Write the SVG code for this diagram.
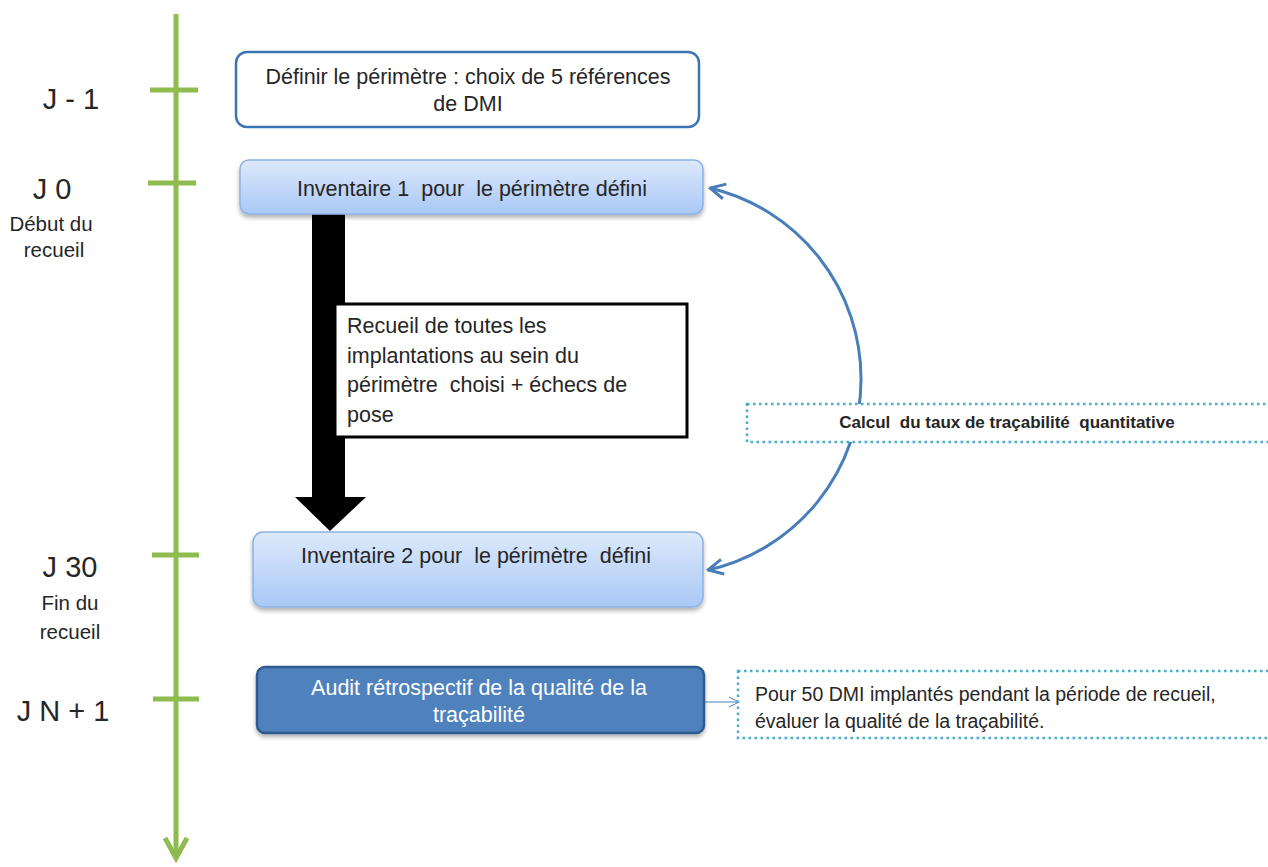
<svg xmlns="http://www.w3.org/2000/svg" width="1268" height="867" viewBox="0 0 1268 867">
<style>
text{font-family:"Liberation Sans",Arial,sans-serif;fill:#262626;white-space:pre}
.day{font-size:29px}
.sub{font-size:20.5px}
.t{font-size:21.5px}
.tl{stroke:#8FBC4F;stroke-width:5;fill:none}
.dot{fill:#fff;stroke:#4BACC6;stroke-width:2.5;stroke-dasharray:2.5 3.5}
.inv{fill:url(#g);stroke:#8DB3E2;stroke-width:1.5}
</style>
<defs>
<linearGradient id="g" x1="0" y1="0" x2="0" y2="1">
<stop offset="0" stop-color="#DDE9FB"/>
<stop offset="1" stop-color="#A8C8F6"/>
</linearGradient>
<filter id="sh" x="-5%" y="-20%" width="110%" height="150%">
<feDropShadow dx="0" dy="3" stdDeviation="2" flood-color="#000" flood-opacity="0.3"/>
</filter>
<marker id="ah" viewBox="0 0 12 12" refX="11" refY="6" markerWidth="6" markerHeight="6" orient="auto-start-reverse" markerUnits="strokeWidth">
<path d="M1,1 L11,6 L1,11" fill="none" stroke="#4A7EBB" stroke-width="2"/>
</marker>
<marker id="ahs" viewBox="0 0 12 12" refX="11" refY="6" markerWidth="12" markerHeight="12" orient="auto" markerUnits="strokeWidth">
<path d="M1,1 L11,6 L1,11" fill="none" stroke="#4A7EBB" stroke-width="1"/>
</marker>
</defs>
<g id="timeline">
<line class="tl" x1="176" y1="14" x2="176" y2="858"/>
<path class="tl" d="M165,838 L176,858 L187,838"/>
<line class="tl" x1="150" y1="90" x2="198" y2="90"/>
<line class="tl" x1="148" y1="183" x2="196" y2="183"/>
<line class="tl" x1="152" y1="555" x2="199" y2="555"/>
<line class="tl" x1="153" y1="699" x2="199" y2="699"/>
<text class="day" x="71" y="109" text-anchor="middle">J - 1</text>
<text class="day" x="52" y="199" text-anchor="middle">J 0</text>
<text class="sub" x="51" y="231" text-anchor="middle">Début du</text>
<text class="sub" x="54" y="257" text-anchor="middle">recueil</text>
<text class="day" x="70" y="577" text-anchor="middle">J 30</text>
<text class="sub" x="70" y="610" text-anchor="middle">Fin du</text>
<text class="sub" x="70" y="639" text-anchor="middle">recueil</text>
<text class="day" x="63" y="721" text-anchor="middle">J N + 1</text>
</g>
<g id="connectors">
<path d="M312,214 H345 V497 H366 L330,531 L295,497 H312 Z" fill="#000"/>
<path d="M710,188 A196,196 0 0 1 708,570" fill="none" stroke="#4A7EBB" stroke-width="3" marker-start="url(#ah)" marker-end="url(#ah)"/>
<line x1="704" y1="702" x2="739" y2="702" stroke="#4A7EBB" stroke-width="1" marker-end="url(#ahs)"/>
</g>
<g id="n1">
<rect x="236" y="52" width="463" height="75" rx="11" fill="#fff" stroke="#3C74B4" stroke-width="2.5"/>
<text class="t" x="468" y="84" text-anchor="middle">Définir le périmètre : choix de 5 références</text>
<text class="t" x="468" y="111" text-anchor="middle">de DMI</text>
</g>
<g id="n2">
<rect class="inv" x="240" y="160" width="463" height="54" rx="9" filter="url(#sh)"/>
<text class="t" x="472" y="196" text-anchor="middle">Inventaire 1  pour  le périmètre défini</text>
</g>
<g id="n3">
<rect x="335" y="304" width="352" height="133" fill="#fff" stroke="#000" stroke-width="3"/>
<text class="t" x="347" y="333">Recueil de toutes les</text>
<text class="t" x="347" y="363">implantations au sein du</text>
<text class="t" x="347" y="392">périmètre  choisi + échecs de</text>
<text class="t" x="347" y="422">pose</text>
</g>
<g id="n4">
<rect class="inv" x="253" y="532" width="450" height="75" rx="10" filter="url(#sh)"/>
<text class="t" x="476" y="563" text-anchor="middle">Inventaire 2 pour  le périmètre  défini</text>
</g>
<g id="n5">
<rect x="257" y="667" width="447" height="66" rx="8" fill="#4F81BD" stroke="#2F5A8E" stroke-width="2.5" filter="url(#sh)"/>
<text class="t" x="479" y="695" text-anchor="middle" style="fill:#fff">Audit rétrospectif de la qualité de la</text>
<text class="t" x="479" y="722" text-anchor="middle" style="fill:#fff">traçabilité</text>
</g>
<g id="n6">
<rect class="dot" x="747" y="404" width="530" height="38"/>
<text x="1007" y="428" text-anchor="middle" style="font-size:17px;font-weight:bold">Calcul  du taux de traçabilité  quantitative</text>
</g>
<g id="n7">
<rect class="dot" x="738" y="671" width="540" height="67"/>
<text x="755" y="701" style="font-size:19.5px">Pour 50 DMI implantés pendant la période de recueil,</text>
<text x="755" y="728" style="font-size:19.5px">évaluer la qualité de la traçabilité.</text>
</g>
</svg>
